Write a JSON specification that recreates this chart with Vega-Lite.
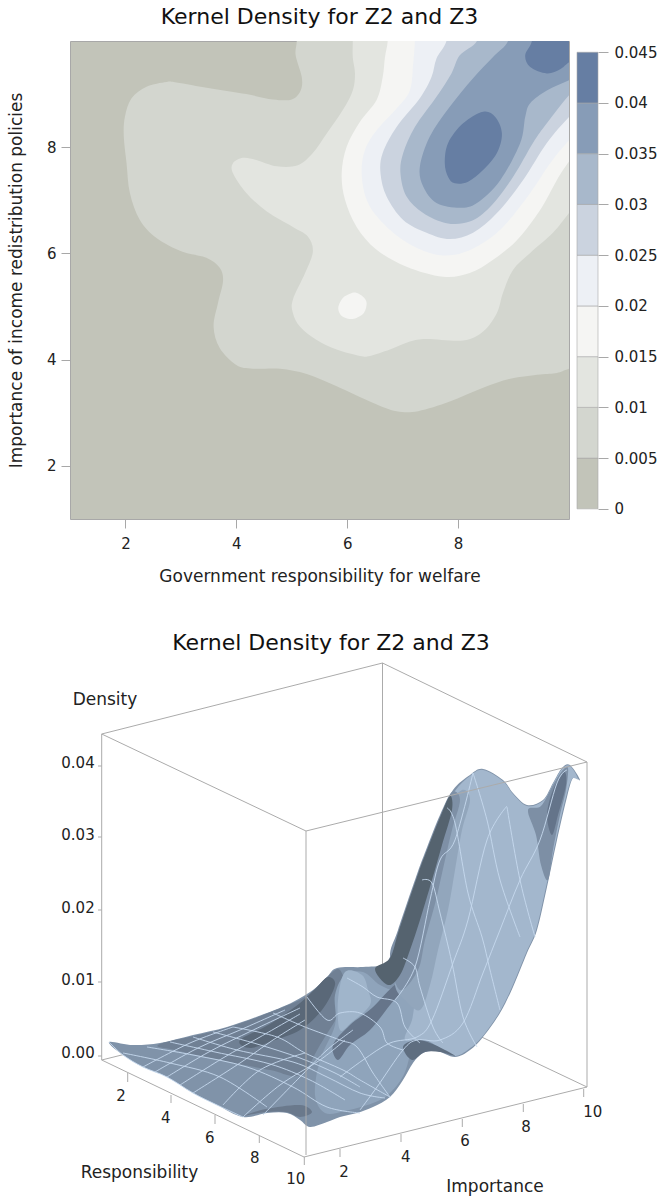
{"$schema":"https://vega.github.io/schema/vega-lite/v6.json","background":"white","padding":{"left":6,"top":5,"right":0,"bottom":0},"spacing":47,
"resolve":{"scale":{"color":"independent"}},
"config":{"font":"DejaVu Sans","view":{"stroke":null},"title":{"font":"DejaVu Sans","fontSize":22,"fontWeight":"normal","color":"#111111"},"axis":{"labelFont":"DejaVu Sans","titleFont":"DejaVu Sans","labelFontSize":15,"titleFontSize":17,"titleFontWeight":"normal","labelColor":"#222222","titleColor":"#222222","tickColor":"#A8A8A8","domain":false,"grid":false,"tickSize":9}},
"datasets":{
"contours":[
{"p":"c1","x":5.09,"y":10.4},{"p":"c1","x":5.09,"y":10},{"p":"c1","x":5.07,"y":9.73},{"p":"c1","x":5.18,"y":9.32},{"p":"c1","x":5.16,"y":9.07},{"p":"c1","x":5.0,"y":8.9},{"p":"c1","x":4.66,"y":8.9},{"p":"c1","x":4.18,"y":9.0},{"p":"c1","x":3.52,"y":9.11},{"p":"c1","x":2.92,"y":9.22},{"p":"c1","x":2.74,"y":9.23},{"p":"c1","x":2.38,"y":9.14},{"p":"c1","x":2.11,"y":8.92},{"p":"c1","x":1.99,"y":8.57},{"p":"c1","x":1.97,"y":8.2},{"p":"c1","x":2.02,"y":7.7},{"p":"c1","x":2.08,"y":7.14},{"p":"c1","x":2.26,"y":6.63},{"p":"c1","x":2.56,"y":6.29},{"p":"c1","x":3.03,"y":6.03},{"p":"c1","x":3.46,"y":5.92},{"p":"c1","x":3.7,"y":5.73},{"p":"c1","x":3.76,"y":5.48},{"p":"c1","x":3.67,"y":5.07},{"p":"c1","x":3.59,"y":4.62},{"p":"c1","x":3.7,"y":4.22},{"p":"c1","x":4.0,"y":3.9},{"p":"c1","x":4.3,"y":3.83},{"p":"c1","x":4.79,"y":3.83},{"p":"c1","x":5.27,"y":3.73},{"p":"c1","x":5.81,"y":3.5},{"p":"c1","x":6.46,"y":3.19},{"p":"c1","x":6.89,"y":3.03},{"p":"c1","x":7.28,"y":3.03},{"p":"c1","x":7.85,"y":3.21},{"p":"c1","x":8.45,"y":3.47},{"p":"c1","x":8.94,"y":3.64},{"p":"c1","x":9.48,"y":3.72},{"p":"c1","x":9.78,"y":3.75},{"p":"c1","x":10,"y":3.83},{"p":"c1","x":10.4,"y":3.95},{"p":"c1","x":10.4,"y":10.4},
{"p":"c2","x":6.1,"y":10.4},{"p":"c2","x":6.1,"y":10},{"p":"c2","x":6.1,"y":9.69},{"p":"c2","x":6.14,"y":9.39},{"p":"c2","x":6.1,"y":9.07},{"p":"c2","x":5.92,"y":8.7},{"p":"c2","x":5.63,"y":8.26},{"p":"c2","x":5.38,"y":7.89},{"p":"c2","x":5.11,"y":7.66},{"p":"c2","x":4.73,"y":7.64},{"p":"c2","x":4.36,"y":7.76},{"p":"c2","x":4.12,"y":7.8},{"p":"c2","x":3.94,"y":7.7},{"p":"c2","x":3.94,"y":7.51},{"p":"c2","x":4.18,"y":7.14},{"p":"c2","x":4.55,"y":6.79},{"p":"c2","x":5.02,"y":6.5},{"p":"c2","x":5.29,"y":6.32},{"p":"c2","x":5.38,"y":6.03},{"p":"c2","x":5.24,"y":5.63},{"p":"c2","x":5.02,"y":5.13},{"p":"c2","x":5.02,"y":4.88},{"p":"c2","x":5.15,"y":4.62},{"p":"c2","x":5.45,"y":4.37},{"p":"c2","x":5.81,"y":4.19},{"p":"c2","x":6.23,"y":4.07},{"p":"c2","x":6.41,"y":4.07},{"p":"c2","x":6.77,"y":4.19},{"p":"c2","x":7.13,"y":4.34},{"p":"c2","x":7.43,"y":4.39},{"p":"c2","x":8.09,"y":4.36},{"p":"c2","x":8.45,"y":4.53},{"p":"c2","x":8.7,"y":4.88},{"p":"c2","x":8.81,"y":5.26},{"p":"c2","x":8.99,"y":5.69},{"p":"c2","x":9.3,"y":6.01},{"p":"c2","x":9.71,"y":6.39},{"p":"c2","x":10,"y":6.76},{"p":"c2","x":10.4,"y":7.3},{"p":"c2","x":10.4,"y":10.4},
{"p":"c3","x":6.73,"y":10.4},{"p":"c3","x":6.73,"y":10},{"p":"c3","x":6.68,"y":9.69},{"p":"c3","x":6.64,"y":9.32},{"p":"c3","x":6.53,"y":8.89},{"p":"c3","x":6.23,"y":8.48},{"p":"c3","x":5.99,"y":8.01},{"p":"c3","x":5.9,"y":7.51},{"p":"c3","x":5.96,"y":7.01},{"p":"c3","x":6.17,"y":6.5},{"p":"c3","x":6.53,"y":6.07},{"p":"c3","x":7.07,"y":5.75},{"p":"c3","x":7.73,"y":5.56},{"p":"c3","x":8.21,"y":5.63},{"p":"c3","x":8.63,"y":5.88},{"p":"c3","x":9.06,"y":6.25},{"p":"c3","x":9.48,"y":6.82},{"p":"c3","x":9.78,"y":7.38},{"p":"c3","x":10,"y":7.73},{"p":"c3","x":10.4,"y":8.3},{"p":"c3","x":10.4,"y":10.4},
{"p":"i3","x":5.84,"y":4.99},{"p":"i3","x":5.92,"y":5.16},{"p":"i3","x":6.05,"y":5.24},{"p":"i3","x":6.16,"y":5.26},{"p":"i3","x":6.28,"y":5.19},{"p":"i3","x":6.35,"y":5.07},{"p":"i3","x":6.3,"y":4.88},{"p":"i3","x":6.12,"y":4.77},{"p":"i3","x":5.96,"y":4.79},{"p":"i3","x":5.87,"y":4.86},
{"p":"c4","x":7.22,"y":10.4},{"p":"c4","x":7.22,"y":10},{"p":"c4","x":7.19,"y":9.58},{"p":"c4","x":7.13,"y":9.07},{"p":"c4","x":6.89,"y":8.73},{"p":"c4","x":6.53,"y":8.32},{"p":"c4","x":6.32,"y":7.95},{"p":"c4","x":6.26,"y":7.51},{"p":"c4","x":6.35,"y":7.01},{"p":"c4","x":6.59,"y":6.63},{"p":"c4","x":7.01,"y":6.25},{"p":"c4","x":7.49,"y":6.01},{"p":"c4","x":7.91,"y":5.97},{"p":"c4","x":8.34,"y":6.13},{"p":"c4","x":8.81,"y":6.5},{"p":"c4","x":9.3,"y":7.14},{"p":"c4","x":9.66,"y":7.7},{"p":"c4","x":10,"y":8.13},{"p":"c4","x":10.4,"y":8.6},{"p":"c4","x":10.4,"y":10.4},
{"p":"c5","x":7.79,"y":10.4},{"p":"c5","x":7.79,"y":10},{"p":"c5","x":7.61,"y":9.67},{"p":"c5","x":7.52,"y":9.32},{"p":"c5","x":7.31,"y":8.92},{"p":"c5","x":6.89,"y":8.38},{"p":"c5","x":6.64,"y":7.89},{"p":"c5","x":6.6,"y":7.51},{"p":"c5","x":6.71,"y":7.07},{"p":"c5","x":7.01,"y":6.63},{"p":"c5","x":7.43,"y":6.39},{"p":"c5","x":7.85,"y":6.27},{"p":"c5","x":8.27,"y":6.39},{"p":"c5","x":8.7,"y":6.76},{"p":"c5","x":9.17,"y":7.38},{"p":"c5","x":9.6,"y":8.08},{"p":"c5","x":10,"y":8.57},{"p":"c5","x":10.4,"y":9.0},{"p":"c5","x":10.4,"y":10.4},
{"p":"c6","x":8.34,"y":10.4},{"p":"c6","x":8.34,"y":10},{"p":"c6","x":8.03,"y":9.73},{"p":"c6","x":7.88,"y":9.39},{"p":"c6","x":7.61,"y":8.95},{"p":"c6","x":7.22,"y":8.38},{"p":"c6","x":7.01,"y":7.89},{"p":"c6","x":6.96,"y":7.51},{"p":"c6","x":7.07,"y":7.07},{"p":"c6","x":7.37,"y":6.76},{"p":"c6","x":7.79,"y":6.57},{"p":"c6","x":8.21,"y":6.6},{"p":"c6","x":8.58,"y":6.88},{"p":"c6","x":8.99,"y":7.44},{"p":"c6","x":9.35,"y":8.08},{"p":"c6","x":9.6,"y":8.45},{"p":"c6","x":10,"y":8.98},{"p":"c6","x":10.4,"y":9.4},{"p":"c6","x":10.4,"y":10.4},
{"p":"c7","x":8.9,"y":10.4},{"p":"c7","x":8.9,"y":10},{"p":"c7","x":8.63,"y":9.7},{"p":"c7","x":8.27,"y":9.3},{"p":"c7","x":7.85,"y":8.76},{"p":"c7","x":7.49,"y":8.2},{"p":"c7","x":7.31,"y":7.63},{"p":"c7","x":7.37,"y":7.26},{"p":"c7","x":7.61,"y":6.95},{"p":"c7","x":8.03,"y":6.86},{"p":"c7","x":8.34,"y":6.95},{"p":"c7","x":8.76,"y":7.38},{"p":"c7","x":9.12,"y":8.08},{"p":"c7","x":9.21,"y":8.57},{"p":"c7","x":9.3,"y":8.83},{"p":"c7","x":9.6,"y":9.07},{"p":"c7","x":10,"y":9.26},{"p":"c7","x":10.4,"y":9.45},{"p":"c7","x":10.4,"y":10.4},
{"p":"p1","x":7.76,"y":7.7},{"p":"p1","x":7.82,"y":8.08},{"p":"p1","x":8.09,"y":8.45},{"p":"p1","x":8.45,"y":8.67},{"p":"p1","x":8.67,"y":8.57},{"p":"p1","x":8.79,"y":8.26},{"p":"p1","x":8.7,"y":7.89},{"p":"p1","x":8.45,"y":7.57},{"p":"p1","x":8.18,"y":7.35},{"p":"p1","x":7.94,"y":7.32},{"p":"p1","x":7.82,"y":7.44},
{"p":"p2","x":9.33,"y":10.4},{"p":"p2","x":9.33,"y":10},{"p":"p2","x":9.21,"y":9.73},{"p":"p2","x":9.3,"y":9.51},{"p":"p2","x":9.6,"y":9.39},{"p":"p2","x":9.84,"y":9.47},{"p":"p2","x":10,"y":9.6},{"p":"p2","x":10.4,"y":9.9},{"p":"p2","x":10.4,"y":10.4}
],
"bands":[{"band":"b0","lo":0,"hi":0.005},{"band":"b1","lo":0.005,"hi":0.01},{"band":"b2","lo":0.01,"hi":0.015},{"band":"b3","lo":0.015,"hi":0.02},{"band":"b4","lo":0.02,"hi":0.025},{"band":"b5","lo":0.025,"hi":0.03},{"band":"b6","lo":0.03,"hi":0.035},{"band":"b7","lo":0.035,"hi":0.04},{"band":"b8","lo":0.04,"hi":0.045}],
"backbox":[{"l":"a","u":101.7,"v":734},{"l":"a","u":382.5,"v":663},{"l":"b","u":382.5,"v":663},{"l":"b","u":382.5,"v":990},{"l":"c","u":101.7,"v":1060},{"l":"c","u":382.5,"v":990},{"l":"d","u":382.5,"v":990},{"l":"d","u":587,"v":1087},{"l":"e","u":382.5,"v":663},{"l":"e","u":587,"v":762}],
"surface":[
{"p":"s0","u":109,"v":1042},{"p":"s0","u":123,"v":1055},{"p":"s0","u":143,"v":1067},{"p":"s0","u":167,"v":1077},{"p":"s0","u":193,"v":1093},{"p":"s0","u":217,"v":1105},{"p":"s0","u":243,"v":1117},{"p":"s0","u":267,"v":1113},{"p":"s0","u":287,"v":1113},{"p":"s0","u":300,"v":1120},{"p":"s0","u":310,"v":1127},{"p":"s0","u":327,"v":1122},{"p":"s0","u":340,"v":1117},{"p":"s0","u":357,"v":1113},{"p":"s0","u":373,"v":1107},{"p":"s0","u":390,"v":1097},{"p":"s0","u":403,"v":1080},{"p":"s0","u":413,"v":1063},{"p":"s0","u":423,"v":1053},{"p":"s0","u":437,"v":1051},{"p":"s0","u":455,"v":1057},{"p":"s0","u":470,"v":1050},{"p":"s0","u":483,"v":1037},{"p":"s0","u":500,"v":1013},{"p":"s0","u":513,"v":987},{"p":"s0","u":527,"v":953},{"p":"s0","u":537,"v":930},{"p":"s0","u":547,"v":887},{"p":"s0","u":557,"v":840},{"p":"s0","u":567,"v":797},{"p":"s0","u":573,"v":778},{"p":"s0","u":580,"v":780},{"p":"s0","u":570,"v":765},{"p":"s0","u":562,"v":768},{"p":"s0","u":553,"v":783},{"p":"s0","u":543,"v":800},{"p":"s0","u":527,"v":805},{"p":"s0","u":513,"v":793},{"p":"s0","u":503,"v":780},{"p":"s0","u":483,"v":769},{"p":"s0","u":470,"v":775},{"p":"s0","u":453,"v":790},{"p":"s0","u":440,"v":817},{"p":"s0","u":427,"v":850},{"p":"s0","u":417,"v":877},{"p":"s0","u":400,"v":933},{"p":"s0","u":390,"v":957},{"p":"s0","u":383,"v":965},{"p":"s0","u":363,"v":967},{"p":"s0","u":337,"v":968},{"p":"s0","u":327,"v":977},{"p":"s0","u":313,"v":990},{"p":"s0","u":293,"v":1002},{"p":"s0","u":267,"v":1013},{"p":"s0","u":227,"v":1027},{"p":"s0","u":193,"v":1035},{"p":"s0","u":160,"v":1043},{"p":"s0","u":133,"v":1045},
{"p":"r1","u":160,"v":1044},{"p":"r1","u":226,"v":1028},{"p":"r1","u":293,"v":1003},{"p":"r1","u":313,"v":991},{"p":"r1","u":326,"v":978},{"p":"r1","u":340,"v":970},{"p":"r1","u":345,"v":1000},{"p":"r1","u":320,"v":1045},{"p":"r1","u":300,"v":1075},{"p":"r1","u":270,"v":1070},{"p":"r1","u":220,"v":1060},{"p":"r1","u":175,"v":1050},
{"p":"r2","u":240,"v":1040},{"p":"r2","u":270,"v":1024},{"p":"r2","u":300,"v":1003},{"p":"r2","u":316,"v":988},{"p":"r2","u":328,"v":977},{"p":"r2","u":335,"v":985},{"p":"r2","u":322,"v":1010},{"p":"r2","u":300,"v":1030},{"p":"r2","u":275,"v":1040},{"p":"r2","u":250,"v":1048},
{"p":"r3","u":243,"v":1116},{"p":"r3","u":266,"v":1109},{"p":"r3","u":300,"v":1105},{"p":"r3","u":312,"v":1112},{"p":"r3","u":300,"v":1117},{"p":"r3","u":286,"v":1112},{"p":"r3","u":266,"v":1112},
{"p":"r4","u":345,"v":975},{"p":"r4","u":363,"v":972},{"p":"r4","u":380,"v":985},{"p":"r4","u":395,"v":990},{"p":"r4","u":410,"v":985},{"p":"r4","u":415,"v":1000},{"p":"r4","u":412,"v":1040},{"p":"r4","u":405,"v":1072},{"p":"r4","u":390,"v":1093},{"p":"r4","u":373,"v":1103},{"p":"r4","u":345,"v":1111},{"p":"r4","u":325,"v":1113},{"p":"r4","u":315,"v":1095},{"p":"r4","u":320,"v":1060},{"p":"r4","u":335,"v":1025},{"p":"r4","u":335,"v":995},
{"p":"r5","u":345,"v":972},{"p":"r5","u":362,"v":975},{"p":"r5","u":368,"v":990},{"p":"r5","u":370,"v":1005},{"p":"r5","u":352,"v":1022},{"p":"r5","u":340,"v":1030},{"p":"r5","u":338,"v":1000},
{"p":"r6","u":350,"v":1025},{"p":"r6","u":372,"v":1008},{"p":"r6","u":395,"v":985},{"p":"r6","u":402,"v":990},{"p":"r6","u":390,"v":1005},{"p":"r6","u":370,"v":1030},{"p":"r6","u":350,"v":1045},{"p":"r6","u":338,"v":1060},{"p":"r6","u":333,"v":1045},
{"p":"r7","u":442,"v":818},{"p":"r7","u":455,"v":791},{"p":"r7","u":470,"v":776},{"p":"r7","u":483,"v":770},{"p":"r7","u":503,"v":781},{"p":"r7","u":513,"v":794},{"p":"r7","u":527,"v":806},{"p":"r7","u":543,"v":801},{"p":"r7","u":553,"v":784},{"p":"r7","u":562,"v":769},{"p":"r7","u":570,"v":766},{"p":"r7","u":578,"v":779},{"p":"r7","u":572,"v":779},{"p":"r7","u":566,"v":797},{"p":"r7","u":556,"v":840},{"p":"r7","u":546,"v":887},{"p":"r7","u":536,"v":930},{"p":"r7","u":526,"v":953},{"p":"r7","u":512,"v":987},{"p":"r7","u":499,"v":1013},{"p":"r7","u":482,"v":1037},{"p":"r7","u":469,"v":1049},{"p":"r7","u":455,"v":1056},{"p":"r7","u":440,"v":1048},{"p":"r7","u":425,"v":1040},{"p":"r7","u":405,"v":1040},{"p":"r7","u":412,"v":1020},{"p":"r7","u":415,"v":1000},{"p":"r7","u":420,"v":970},{"p":"r7","u":425,"v":930},{"p":"r7","u":432,"v":880},{"p":"r7","u":436,"v":845},
{"p":"rd","u":445,"v":810},{"p":"rd","u":462,"v":790},{"p":"rd","u":470,"v":800},{"p":"rd","u":462,"v":830},{"p":"rd","u":455,"v":870},{"p":"rd","u":448,"v":910},{"p":"rd","u":438,"v":950},{"p":"rd","u":430,"v":985},{"p":"rd","u":420,"v":1010},{"p":"rd","u":405,"v":1000},{"p":"rd","u":395,"v":985},{"p":"rd","u":398,"v":950},{"p":"rd","u":420,"v":880},{"p":"rd","u":430,"v":850},
{"p":"r8","u":541,"v":806},{"p":"r8","u":553,"v":785},{"p":"r8","u":562,"v":771},{"p":"r8","u":568,"v":768},{"p":"r8","u":566,"v":790},{"p":"r8","u":560,"v":815},{"p":"r8","u":553,"v":850},{"p":"r8","u":548,"v":880},{"p":"r8","u":541,"v":865},{"p":"r8","u":536,"v":835},{"p":"r8","u":528,"v":810},
{"p":"r9","u":553,"v":790},{"p":"r9","u":564,"v":772},{"p":"r9","u":566,"v":785},{"p":"r9","u":558,"v":815},{"p":"r9","u":552,"v":835},{"p":"r9","u":547,"v":815},
{"p":"ra","u":440,"v":815},{"p":"ra","u":452,"v":792},{"p":"ra","u":460,"v":800},{"p":"ra","u":452,"v":830},{"p":"ra","u":445,"v":860},{"p":"ra","u":436,"v":900},{"p":"ra","u":425,"v":940},{"p":"ra","u":418,"v":970},{"p":"ra","u":400,"v":990},{"p":"ra","u":390,"v":957},{"p":"ra","u":398,"v":930},{"p":"ra","u":416,"v":877},{"p":"ra","u":426,"v":850},
{"p":"rb","u":441,"v":815},{"p":"rb","u":450,"v":796},{"p":"rb","u":452,"v":810},{"p":"rb","u":442,"v":845},{"p":"rb","u":432,"v":880},{"p":"rb","u":420,"v":920},{"p":"rb","u":410,"v":950},{"p":"rb","u":400,"v":975},{"p":"rb","u":388,"v":985},{"p":"rb","u":375,"v":969},{"p":"rb","u":390,"v":958},{"p":"rb","u":399,"v":930},{"p":"rb","u":417,"v":877},{"p":"rb","u":427,"v":850},
{"p":"rc","u":403,"v":1047},{"p":"rc","u":415,"v":1040},{"p":"rc","u":430,"v":1043},{"p":"rc","u":445,"v":1050},{"p":"rc","u":455,"v":1056},{"p":"rc","u":440,"v":1052},{"p":"rc","u":425,"v":1052},{"p":"rc","u":412,"v":1060}
],
"mesh":[
{"l":"e0","u":109,"v":1042},{"l":"e0","u":123,"v":1055},{"l":"e0","u":143,"v":1067},{"l":"e0","u":167,"v":1077},{"l":"e0","u":193,"v":1093},{"l":"e0","u":217,"v":1105},{"l":"e0","u":243,"v":1117},
{"l":"m1","u":223,"v":1105},{"l":"m1","u":260,"v":1070},{"l":"m1","u":305,"v":1053},
{"l":"m2","u":263,"v":1115},{"l":"m2","u":300,"v":1077},{"l":"m2","u":327,"v":1050},{"l":"m2","u":353,"v":1030},
{"l":"m3","u":193,"v":1093},{"l":"m3","u":240,"v":1063},{"l":"m3","u":273,"v":1040},{"l":"m3","u":305,"v":1020},
{"l":"m4","u":167,"v":1077},{"l":"m4","u":207,"v":1053},{"l":"m4","u":247,"v":1033},{"l":"m4","u":300,"v":1008},
{"l":"m5","u":143,"v":1067},{"l":"m5","u":190,"v":1043},{"l":"m5","u":233,"v":1027},
{"l":"m6","u":243,"v":1117},{"l":"m6","u":280,"v":1085},{"l":"m6","u":320,"v":1060},{"l":"m6","u":345,"v":1040},
{"l":"m7","u":180,"v":1085},{"l":"m7","u":223,"v":1058},{"l":"m7","u":260,"v":1037},{"l":"m7","u":300,"v":1014},
{"l":"m8","u":155,"v":1072},{"l":"m8","u":198,"v":1048},{"l":"m8","u":240,"v":1030},{"l":"m8","u":285,"v":1010},
{"l":"n1","u":123,"v":1053},{"l":"n1","u":170,"v":1063},{"l":"n1","u":220,"v":1077},{"l":"n1","u":267,"v":1107},
{"l":"n2","u":147,"v":1047},{"l":"n2","u":193,"v":1055},{"l":"n2","u":247,"v":1067},{"l":"n2","u":293,"v":1087},{"l":"n2","u":327,"v":1107},{"l":"n2","u":360,"v":1113},
{"l":"n8","u":170,"v":1042},{"l":"n8","u":215,"v":1052},{"l":"n8","u":270,"v":1064},{"l":"n8","u":310,"v":1080},{"l":"n8","u":345,"v":1100},
{"l":"n3","u":193,"v":1037},{"l":"n3","u":237,"v":1050},{"l":"n3","u":293,"v":1062},{"l":"n3","u":327,"v":1077},{"l":"n3","u":360,"v":1093},{"l":"n3","u":385,"v":1098},
{"l":"n9","u":213,"v":1032},{"l":"n9","u":257,"v":1044},{"l":"n9","u":300,"v":1058},{"l":"n9","u":335,"v":1073},{"l":"n9","u":360,"v":1087},
{"l":"n4","u":233,"v":1027},{"l":"n4","u":277,"v":1037},{"l":"n4","u":305,"v":1053},{"l":"n4","u":343,"v":1070},{"l":"n4","u":360,"v":1080},{"l":"n4","u":390,"v":1097},
{"l":"n5","u":273,"v":1013},{"l":"n5","u":305,"v":1027},{"l":"n5","u":340,"v":1040},{"l":"n5","u":357,"v":1047},{"l":"n5","u":373,"v":1073},{"l":"n5","u":390,"v":1097},
{"l":"n6","u":307,"v":997},{"l":"n6","u":327,"v":1020},{"l":"n6","u":340,"v":1013},{"l":"n6","u":360,"v":1013},{"l":"n6","u":380,"v":1027},{"l":"n6","u":387,"v":1043},{"l":"n6","u":403,"v":1050},
{"l":"n7","u":347,"v":978},{"l":"n7","u":363,"v":987},{"l":"n7","u":377,"v":997},{"l":"n7","u":397,"v":1003},{"l":"n7","u":405,"v":1027},{"l":"n7","u":420,"v":1043},
{"l":"u1","u":340,"v":1077},{"l":"u1","u":363,"v":1060},{"l":"u1","u":390,"v":1043},{"l":"u1","u":417,"v":1037},{"l":"u1","u":432,"v":1020},{"l":"u1","u":453,"v":963},{"l":"u1","u":468,"v":920},{"l":"u1","u":487,"v":840},{"l":"u1","u":507,"v":806},
{"l":"u2","u":360,"v":1110},{"l":"u2","u":377,"v":1087},{"l":"u2","u":403,"v":1050},{"l":"u2","u":417,"v":1040},{"l":"u2","u":440,"v":1040},{"l":"u2","u":463,"v":1023},{"l":"u2","u":483,"v":973},{"l":"u2","u":500,"v":930},{"l":"u2","u":520,"v":880},{"l":"u2","u":540,"v":840},{"l":"u2","u":557,"v":783},{"l":"u2","u":567,"v":770},
{"l":"u3","u":395,"v":1000},{"l":"u3","u":415,"v":967},{"l":"u3","u":430,"v":900},{"l":"u3","u":440,"v":860},{"l":"u3","u":455,"v":840},{"l":"u3","u":473,"v":773},
{"l":"d1","u":403,"v":958},{"l":"d1","u":415,"v":967},{"l":"d1","u":420,"v":987},{"l":"d1","u":433,"v":1027},{"l":"d1","u":443,"v":1043},
{"l":"d2","u":422,"v":880},{"l":"d2","u":432,"v":883},{"l":"d2","u":440,"v":913},{"l":"d2","u":452,"v":963},{"l":"d2","u":463,"v":1017},{"l":"d2","u":477,"v":1047},
{"l":"d3","u":447,"v":808},{"l":"d3","u":455,"v":823},{"l":"d3","u":468,"v":893},{"l":"d3","u":482,"v":937},{"l":"d3","u":490,"v":970},{"l":"d3","u":500,"v":1010},
{"l":"d4","u":473,"v":773},{"l":"d4","u":487,"v":820},{"l":"d4","u":500,"v":880},{"l":"d4","u":520,"v":937},
{"l":"d5","u":507,"v":807},{"l":"d5","u":520,"v":880},{"l":"d5","u":535,"v":937}
],
"frontbox":[{"l":"a","u":101.7,"v":734},{"l":"a","u":306,"v":831},{"l":"b","u":306,"v":831},{"l":"b","u":587,"v":762},{"l":"c","u":101.7,"v":734},{"l":"c","u":101.7,"v":1060},{"l":"d","u":306,"v":831},{"l":"d","u":306,"v":1155},{"l":"e","u":587,"v":762},{"l":"e","u":587,"v":1087},{"l":"f","u":101.7,"v":1060},{"l":"f","u":304,"v":1157},{"l":"g","u":304,"v":1157},{"l":"g","u":587,"v":1087},
{"l":"z4","u":98,"v":766},{"l":"z4","u":101.7,"v":766},{"l":"z3","u":98,"v":837},{"l":"z3","u":101.7,"v":837},{"l":"z2","u":98,"v":910},{"l":"z2","u":101.7,"v":910},{"l":"z1","u":98,"v":982},{"l":"z1","u":101.7,"v":982},{"l":"z0","u":98,"v":1056},{"l":"z0","u":101.7,"v":1056},
{"l":"r2","u":127.7,"v":1073},{"l":"r2","u":127.7,"v":1082},{"l":"r4","u":171,"v":1095},{"l":"r4","u":171,"v":1103},{"l":"r6","u":215,"v":1115},{"l":"r6","u":215,"v":1124},{"l":"r8","u":259.3,"v":1136},{"l":"r8","u":259.3,"v":1143},{"l":"r10","u":304.3,"v":1157},{"l":"r10","u":304.3,"v":1165},
{"l":"i2","u":340,"v":1149},{"l":"i2","u":340,"v":1157},{"l":"i4","u":401,"v":1134},{"l":"i4","u":401,"v":1142},{"l":"i6","u":462.3,"v":1119},{"l":"i6","u":462.3,"v":1127},{"l":"i8","u":523.3,"v":1104},{"l":"i8","u":523.3,"v":1112},{"l":"i10","u":583.7,"v":1089},{"l":"i10","u":583.7,"v":1097}],
"labels":[{"t":"0.04","u":78,"v":763},{"t":"0.03","u":78,"v":835},{"t":"0.02","u":78,"v":908},{"t":"0.01","u":78,"v":980},{"t":"0.00","u":78,"v":1053},{"t":"2","u":121,"v":1096},{"t":"4","u":165.7,"v":1118},{"t":"6","u":209.7,"v":1138},{"t":"8","u":254.7,"v":1158},{"t":"10","u":295.7,"v":1179},{"t":"2","u":344,"v":1172},{"t":"4","u":405.7,"v":1157},{"t":"6","u":465,"v":1141},{"t":"8","u":526,"v":1127},{"t":"10","u":592.7,"v":1112}],
"names":[{"t":"Density","u":105,"v":700},{"t":"Responsibility","u":139.5,"v":1173},{"t":"Importance","u":495,"v":1187}]
},
"vconcat":[
{"spacing":6,"bounds":"full","resolve":{"scale":{"color":"independent"}},"hconcat":[
{"title":{"text":"Kernel Density for Z2 and Z3","anchor":"middle","offset":12},"width":499,"height":478,
"view":{"fill":"#C2C4B9","stroke":"#A8A8A8"},
"data":{"name":"contours"},
"mark":{"type":"line","filled":true,"interpolate":"cardinal-closed","clip":true},
"encoding":{
"x":{"field":"x","type":"quantitative","scale":{"domain":[1,10],"nice":false,"zero":false},"axis":{"values":[2,4,6,8],"title":"Government responsibility for welfare","titlePadding":17,"labelPadding":8}},
"y":{"field":"y","type":"quantitative","scale":{"domain":[1,10],"nice":false,"zero":false},"axis":{"values":[2,4,6,8],"title":"Importance of income redistribution policies","titlePadding":21,"labelPadding":5}},
"order":{"value":null},
"color":{"field":"p","type":"nominal","legend":null,"scale":{"domain":["c1","c2","c3","i3","c4","c5","c6","c7","p1","p2"],"range":["#D3D6CF","#E3E5E0","#F5F5F3","#F5F5F3","#EDF0F5","#CBD3DF","#A8B8CB","#879CB7","#667EA3","#667EA3"]}}}},
{"title":{"text":" ","anchor":"middle","offset":12},"width":21,"height":478,
"data":{"name":"bands"},
"mark":{"type":"rect","stroke":"#A8A8A8","strokeWidth":0.6},
"encoding":{
"y":{"field":"lo","type":"quantitative","scale":{"domain":[-0.001,0.04611],"nice":false,"zero":false},"axis":{"orient":"right","values":[0,0.005,0.01,0.015,0.02,0.025,0.03,0.035,0.04,0.045],"format":"~g","title":null,"tickSize":10,"labelPadding":6}},
"y2":{"field":"hi"},
"color":{"field":"band","type":"nominal","legend":null,"scale":{"domain":["b0","b1","b2","b3","b4","b5","b6","b7","b8"],"range":["#C2C4B9","#D3D6CF","#E3E5E0","#F5F5F3","#EDF0F5","#CBD3DF","#A8B8CB","#879CB7","#667EA3"]}}}}
]},
{"title":{"text":"Kernel Density for Z2 and Z3","anchor":"middle","offset":0,"dx":-35},"width":592,"height":543,
"encoding":{
"x":{"field":"u","type":"quantitative","scale":{"domain":[70,662],"nice":false,"zero":false},"axis":null},
"y":{"field":"v","type":"quantitative","scale":{"domain":[1198,655],"nice":false,"zero":false},"axis":null}},
"layer":[
{"data":{"name":"backbox"},"mark":{"type":"line","color":"#ABABAB","strokeWidth":1},"encoding":{"detail":{"field":"l"},"order":{"value":null}}},
{"data":{"name":"surface"},"mark":{"type":"line","filled":true,"interpolate":"cardinal-closed"},"encoding":{"order":{"value":null},"color":{"field":"p","type":"nominal","legend":null,"scale":{"domain":["s0","r1","r2","r3","r4","r5","r6","r7","rd","r8","r9","ra","rb","rc"],"range":["#8093A9","#708094","#5A6878","#6A798C","#8FA4BB","#A0B5CB","#66758A","#A3B7CD","#92A6BC","#7D8FA5","#64748A","#7E90A6","#55636F","#5F6E80"]}}}},
{"data":{"name":"mesh"},"mark":{"type":"line","color":"#C6D9EE","strokeWidth":0.9,"interpolate":"cardinal"},"encoding":{"detail":{"field":"l"},"order":{"value":null}}},
{"data":{"name":"frontbox"},"mark":{"type":"line","color":"#ABABAB","strokeWidth":1},"encoding":{"detail":{"field":"l"},"order":{"value":null}}},
{"data":{"name":"labels"},"mark":{"type":"text","fontSize":15,"color":"#222222","font":"DejaVu Sans"},"encoding":{"text":{"field":"t"}}},
{"data":{"name":"names"},"mark":{"type":"text","fontSize":17,"color":"#222222","font":"DejaVu Sans"},"encoding":{"text":{"field":"t"}}}
]}
]}
